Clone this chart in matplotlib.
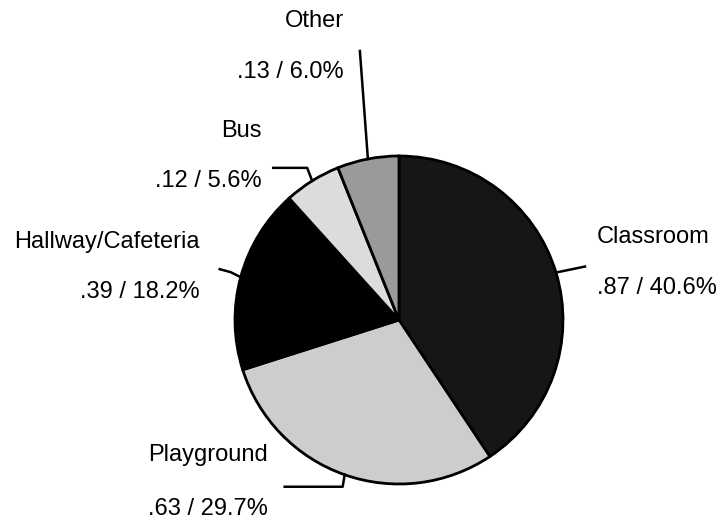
import numpy as np
import matplotlib.pyplot as plt

# data
labels = ["Classroom", "Playground", "Hallway/Cafeteria", "Bus", "Other"]
rates = [0.87, 0.63, 0.39, 0.12, 0.13]
pct_text = ["40.6%", "29.7%", "18.2%", "5.6%", "6.0%"]
colors = ["#161616", "#cdcdcd", "#000000", "#dcdcdc", "#9a9a9a"]

plt.rcParams['font.family'] = ['Liberation Sans', 'DejaVu Sans']

W, H = 722, 520
fig = plt.figure(figsize=(W / 100, H / 100), dpi=100)

# pie centre and radius in pixels
cx, cy, r = 399, 320, 164
ax = fig.add_axes([(cx - r) / W, (H - cy - r) / H, 2 * r / W, 2 * r / H])

wedges, _ = ax.pie(rates, colors=colors, startangle=90, counterclock=False,
                   radius=1, wedgeprops=dict(edgecolor="black", linewidth=2))
ax.set_xlim(-1, 1)
ax.set_ylim(-1, 1)
ax.set_aspect("equal")
ax.axis("off")

# label positions (pixels): x, y of name, y of value line, alignment
label_pos = {
    "Classroom": (597, 237, 288, "left"),
    "Playground": (148, 455, 509, "left"),
    "Hallway/Cafeteria": (200, 242, 292, "right"),
    "Bus": (262, 131, 181, "right"),
    "Other": (344, 21, 72, "right"),
}
# leader line bends, pixel offsets from the slice edge (dx right, dy up)
leaders = {
    "Classroom": [(29, 6)],
    "Playground": [(-2, -12), (-60, -12)],
    "Hallway/Cafeteria": [(-10, 5), (-21, 8)],
    "Bus": [(-5, 13), (-39, 13)],
    "Other": [(-8, 108)],
}

fs = 17
for w, name, val, pct in zip(wedges, labels, rates, pct_text):
    mid = np.deg2rad((w.theta1 + w.theta2) / 2)
    ex, ey = np.cos(mid), np.sin(mid)
    xs = [ex] + [ex + dx / r for dx, dy in leaders[name]]
    ys = [ey] + [ey + dy / r for dx, dy in leaders[name]]
    ax.plot(xs, ys, color="black", lw=1.8, clip_on=False)

    x, y1, y2, ha = label_pos[name]
    fig.text(x / W, 1 - y1 / H, name, ha=ha, va="center", fontsize=fs)
    fig.text(x / W, 1 - y2 / H, ("%.2f" % val).lstrip("0") + " / " + pct,
             ha=ha, va="center", fontsize=fs)

fig.savefig("out.png", dpi=100, facecolor="white")
